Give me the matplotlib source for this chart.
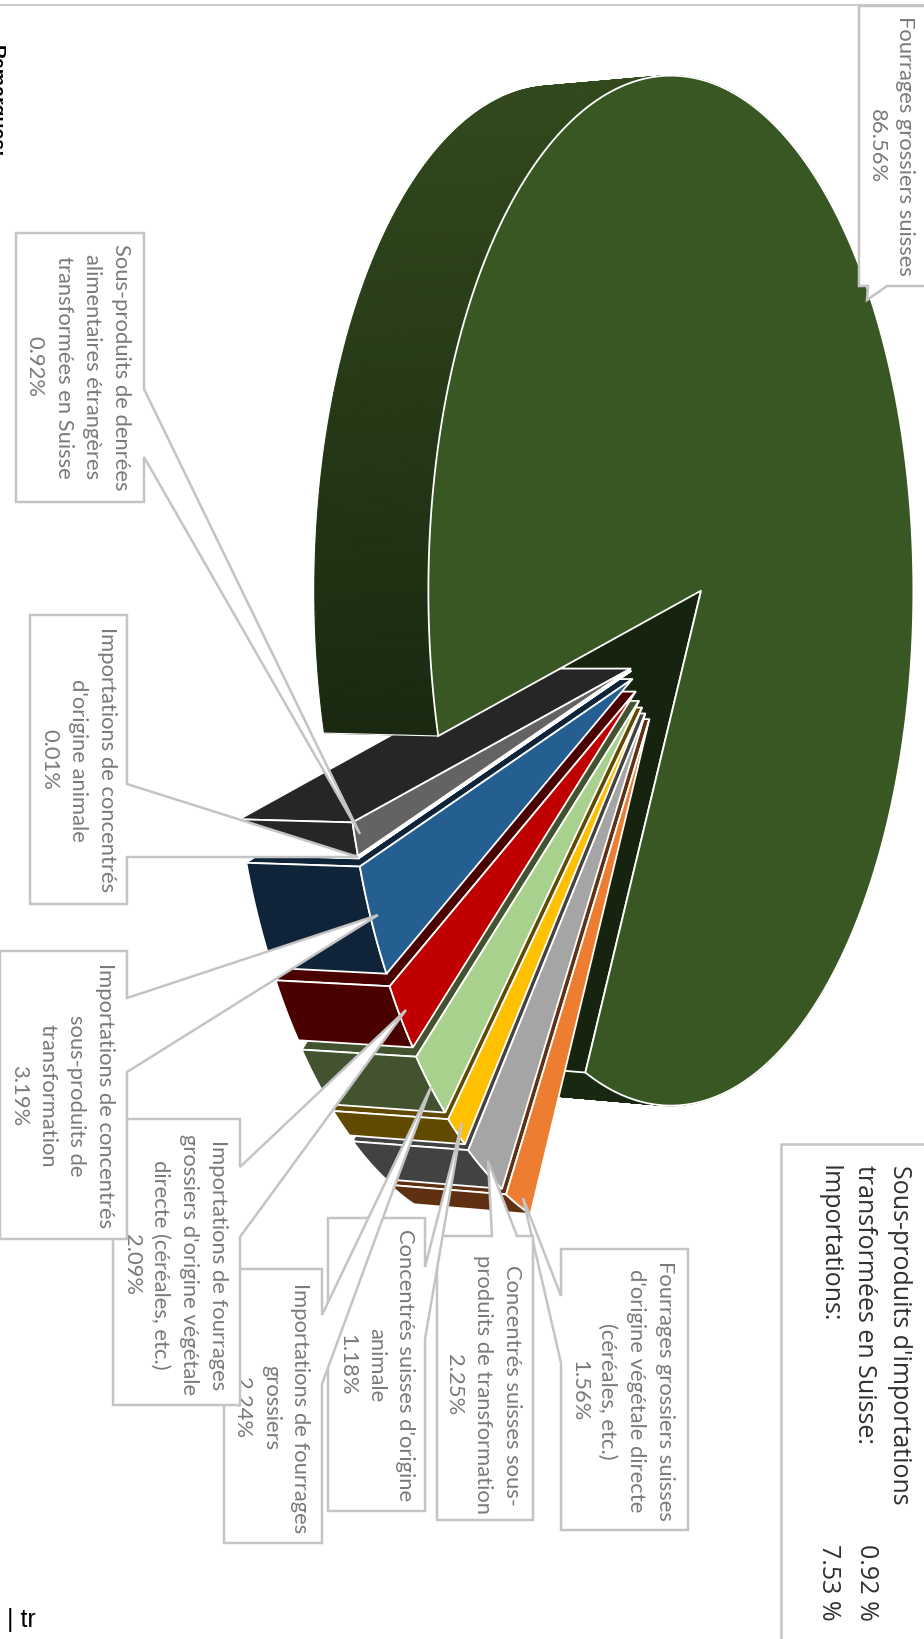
import numpy as np
import matplotlib
matplotlib.use("Agg")
import matplotlib.pyplot as plt
from matplotlib.colors import to_rgb

# slices, in the order they run round the pie
categories = ["Fourrages grossiers suisses",
              "Fourrages grossiers suisses d'origine végétale directe (céréales, etc.)",
              "Concentrés suisses sous-produits de transformation",
              "Concentrés suisses d'origine animale",
              "Importations de fourrages grossiers",
              "Importations de fourrages grossiers d'origine végétale directe (céréales, etc.)",
              "Importations de concentrés sous-produits de transformation",
              "Importations de concentrés d'origine animale",
              "Sous-produits de denrées alimentaires étrangères transformées en Suisse"]
shares = [86.56, 1.56, 2.25, 1.18, 2.24, 2.09, 3.19, 0.01, 0.92]
top_colors = ["#385723", "#ed7d31", "#a5a5a5", "#ffc000", "#a9d18e",
              "#c00000", "#255e91", "#ffffff", "#636363"]
side_colors = ["#16240f", "#5f3011", "#424242", "#614a00", "#43532f",
               "#4b0000", "#0f2439", "#ffffff", "#262626"]

summary_names = "Sous-produits d'importations\ntransformées en Suisse:\nImportations:"
summary_values = ["0.92 %", "7.53 %"]

# pie geometry in pixels, y pointing down
center = np.array([669.5, 645.5])
rx, ry = 242.5, 515.0
explode = 0.167
start_angle = 165.4
depth = -119.0
back_scale = 0.98
persp = -30.0 / 241.0
near_scale = 0.06


def ray(t, k):
    # perspective: the rim is an ellipse that sits off the apex,
    # pulled-out slices grow on the side near the viewer
    c, s = np.cos(t), np.sin(t)
    d = c * persp
    r = (d + np.sqrt(d * d + 1 - persp * persp)) * (1 - k * c)
    return np.column_stack([rx * r * c, ry * r * s])


def rim(apex, t, k=0.0):
    return apex + ray(t, k)


def back_rim(apex, t, k=0.0):
    return apex + [depth, 0] + back_scale * ray(t, k)


def quad(a, b, c, d, color, ec="white", lw=1.3, z=2):
    pts = np.array([a, b, c, d])
    ax.fill(pts[:, 0], pts[:, 1], facecolor=color, edgecolor=ec, linewidth=lw, zorder=z, joinstyle="round")


def side_face(apex, t, k, color):
    tt = np.array([t])
    quad(apex, rim(apex, tt, k)[0], back_rim(apex, tt, k)[0], apex + [depth, 0], color)


def wall(apex, t, k, color):
    pts = np.vstack([rim(apex, t, k), back_rim(apex, t, k)[::-1]])
    ax.fill(pts[:, 0], pts[:, 1], facecolor=color, edgecolor="white", linewidth=1.3, zorder=2)


def top_face(apex, t, k, color):
    pts = np.vstack([apex, rim(apex, t, k)])
    ax.fill(pts[:, 0], pts[:, 1], facecolor=color, edgecolor="white", linewidth=1.3, zorder=2)


def main_wall(apex, t0, t1):
    # the big wall gets darker towards the bottom of the picture
    c_top = np.array(to_rgb("#31491d"))
    c_bot = np.array(to_rgb("#192810"))
    edges = np.radians(np.linspace(t0, t1, 220))
    for a, b in zip(edges[:-1], edges[1:]):
        t = np.array([a, b])
        pts = np.vstack([rim(apex, t), back_rim(apex, t)[::-1]])
        f = np.clip((pts[:, 1].mean() - 90) / 650, 0, 1)
        col = c_top + (c_bot - c_top) * f
        ax.fill(pts[:, 0], pts[:, 1], facecolor=col, edgecolor=col, linewidth=0.8, zorder=2)


fig = plt.figure(figsize=(9.24, 16.4), dpi=100)
ax = fig.add_axes([0, 0, 1, 1])
ax.set_xlim(0, 924)
ax.set_ylim(1640, 0)
ax.axis("off")

sweep = np.array(shares) / sum(shares) * 360.0
ends = start_angle + np.cumsum(sweep)
starts = ends - sweep
mids = np.radians((starts + ends) / 2)
apexes = [center + explode * np.array([rx * np.cos(m), ry * np.sin(m)]) for m in mids]

# part of the big slice that lies behind the small ones
main_apex = apexes[0]
main_end = np.radians(ends[0])
main_wall(main_apex, ends[0] - 60, ends[0])
side_face(main_apex, main_end, 0.0, side_colors[0])

for i in range(1, len(shares)):
    t = np.radians(np.linspace(starts[i], ends[i], 12))
    side_face(apexes[i], t[-1], near_scale, side_colors[i])
    wall(apexes[i], t, near_scale, side_colors[i])
    top_face(apexes[i], t, near_scale, top_colors[i])

# part of the big slice in front of them
main_wall(main_apex, starts[0], starts[0] + 140)
a_rim = rim(main_apex, np.radians([starts[0]]))[0]
a_back = back_rim(main_apex, np.radians([starts[0]]))[0]
ax.plot([a_rim[0], a_back[0]], [a_rim[1], a_back[1]], color="white", lw=0.8, zorder=2)
top_face(main_apex, np.radians(np.linspace(starts[0], ends[0], 300)), 0.0, top_colors[0])

# label boxes in the order they stack, x0, x1, y0, y1 in pixels, plus pointer
label_texts = ["Fourrages grossiers suisses\n86.56%",
               "Fourrages grossiers suisses\nd'origine végétale directe\n(céréales, etc.)\n1.56%",
               "Concentrés suisses sous-\nproduits de transformation\n2.25%",
               "Concentrés suisses d'origine\nanimale\n1.18%",
               "Importations de fourrages\ngrossiers\n2.24%",
               "Importations de fourrages\ngrossiers d'origine végétale\ndirecte (céréales, etc.)\n2.09%",
               "Importations de concentrés\nsous-produits de\ntransformation\n3.19%",
               "Importations de concentrés\nd'origine animale\n0.01%",
               "Sous-produits de denrées\nalimentaires étrangères\ntransformées en Suisse\n0.92%"]
label_boxes = [(859, 930, 7, 287), (561, 688, 1250, 1531), (437, 533, 1237, 1521),
               (328, 425, 1219, 1512), (224, 322, 1270, 1544), (113, 240, 1120, 1406),
               (0, 127, 952, 1240), (30, 127, 616, 905), (16, 144, 234, 503)]
label_centers = [(891, 146), (622, 1391), (483, 1385), (376, 1365), (271, 1408),
                 (175, 1265), (62, 1096), (78, 760), (78, 367)]
pointer_side = ["bottom", "left", "top", "right", "right", "right", "right", "right", "right"]
pointer_base = [(868, 887), (1297, 1364), (492, 517), (1268, 1340), (1316, 1385),
                (1168, 1238), (999, 1073), (785, 858), (390, 458)]
pointer_tip = [(867, 301), (523, 1199), (488, 1162), (462, 1124), (431, 1088),
               (406, 1011), (378, 916), (358, 858), (360, 835)]

gray = "#c4c4c4"
for txt, box, c, side, base, tip in zip(label_texts, label_boxes, label_centers,
                                        pointer_side, pointer_base, pointer_tip):
    x0, x1, y0, y1 = box
    if side == "right":
        pts = [(x0, y0), (x1, y0), (x1, base[0]), tip, (x1, base[1]), (x1, y1), (x0, y1)]
    elif side == "left":
        pts = [(x0, y0), (x1, y0), (x1, y1), (x0, y1), (x0, base[1]), tip, (x0, base[0])]
    elif side == "top":
        pts = [(x0, y0), (base[0], y0), tip, (base[1], y0), (x1, y0), (x1, y1), (x0, y1)]
    else:
        pts = [(x0, y0), (x1, y0), (x1, y1), (base[1], y1), tip, (base[0], y1), (x0, y1)]
    pts = np.array(pts)
    ax.fill(pts[:, 0], pts[:, 1], facecolor="white", edgecolor=gray, linewidth=1.8, zorder=3,
            joinstyle="miter")
    ax.text(c[0], c[1], txt, rotation=-90, ha="center", va="center", multialignment="center",
            family="Lato", fontsize=15.8, color="#7a7a7a", linespacing=1.55, zorder=3)

# frame line along the top and the summary box
ax.plot([0, 924], [6, 6], color="#cccccc", lw=1.5, zorder=1)
ax.plot([930, 781, 781], [1145, 1145, 1645], color=gray, lw=1.8, zorder=4)
ax.text(864, 1165, summary_names, rotation=-90, ha="center", va="top", multialignment="left",
        family="Open Sans", fontsize=18, color="#303030", linespacing=1.55, zorder=4)
ax.text(866, 1544, summary_values[0], rotation=-90, ha="center", va="top",
        family="Open Sans", fontsize=18, color="#303030", zorder=4)
ax.text(829, 1544, summary_values[1], rotation=-90, ha="center", va="top",
        family="Open Sans", fontsize=18, color="#303030", zorder=4)

# bits of the page around the chart, cut off by the screenshot
ax.text(-13, 45, "Remarques:", rotation=-90, ha="left", va="top", family="Liberation Sans",
        fontsize=14, fontweight="bold", color="black", clip_on=True)
ax.text(7, 1620, "| tr", ha="left", va="center", family="Liberation Sans", fontsize=18, color="black")

fig.savefig("out.png", dpi=100)
